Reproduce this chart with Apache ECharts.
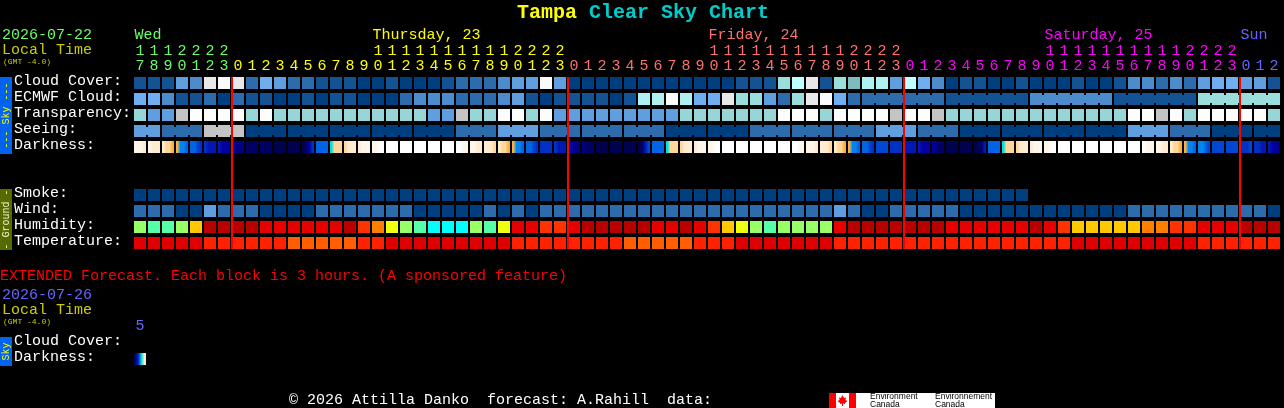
<!DOCTYPE html>
<html><head><meta charset="utf-8">
<style>html,body{margin:0;padding:0;background:#000;overflow:hidden}#c{width:1284px;height:408px}</style>
<script src="https://cdn.jsdelivr.net/npm/echarts@6/dist/echarts.min.js"></script>
</head><body><div id="c"></div>
<script>
var hours = [17,18,19,20,21,22,23,
  0,1,2,3,4,5,6,7,8,9,10,11,12,13,14,15,16,17,18,19,20,21,22,23,
  0,1,2,3,4,5,6,7,8,9,10,11,12,13,14,15,16,17,18,19,20,21,22,23,
  0,1,2,3,4,5,6,7,8,9,10,11,12,13,14,15,16,17,18,19,20,21,22,23,
  0,1,2];
var rowNames = ['Cloud Cover:','ECMWF Cloud:','Transparency:','Seeing:','Darkness:','','','Smoke:','Wind:','Humidity:','Temperature:'];
var extRowNames = ['Cloud Cover:','Darkness:'];
var extHours = ['5'];
var dayNames = ['Wed','Thursday, 23','Friday, 24','Saturday, 25','Sun'];
var dayLabelCols = [0,17,41,65,79];
var midnightCols = [7,31,55,79];

var cloudCover = [1,1,1,4,3,10,11,
  10,2,5,4,2,2,1,1,1,0,0,1,0,0,0,1,2,2,2,3,4,4,11,4,
  0,0,0,0,0,0,0,0,0,0,0,0,1,1,1,7,9,10,1,7,6,8,8,4,
  9,5,3,0,1,1,0,0,1,0,0,0,1,0,0,1,3,3,2,3,2,4,5,5,
  4,4,1];
var ecmwfCloud = [5,5,3,1,1,2,0,
  2,1,1,0,0,1,0,1,1,0,0,0,2,3,3,3,2,2,2,3,4,1,0,1,
  1,1,1,0,1,8,8,11,8,5,5,10,7,7,4,2,7,10,11,5,2,2,2,2,
  2,2,2,1,1,1,1,1,1,3,3,3,3,3,3,1,1,1,1,1,1,7,7,7,
  7,7,7];
var ecmwfBlocks = [1,1,1,1,1,1,1,1,1,1,1,1,1,1,1,1,1,1,1,1,1,1,1,1,1,1,1,1,1,1,1,1,1,1,1,1,1,1,1,1,1,1,1,1,1,1,1,1,1,1,1,1,6,6,6,6,6];
var transparency = [1,0,0,3,2,2,2,
  2,1,2,1,1,1,1,1,1,1,1,1,1,1,0,0,3,1,1,2,2,1,2,0,
  0,0,0,0,0,0,0,0,1,1,1,1,1,1,1,2,2,2,1,2,2,2,2,3,
  2,2,3,1,1,1,1,1,1,1,1,1,1,1,1,1,2,2,3,2,1,2,2,2,
  2,2,1];
var seeing = [2,2,1,1,1,3,3,
  3,0,0,0,0,0,0,0,0,0,0,0,0,0,0,0,1,1,1,2,2,2,1,1,
  1,1,1,1,1,1,1,0,0,0,0,0,0,1,1,1,1,1,1,1,1,1,2,2,
  2,1,1,1,0,0,0,0,0,0,0,0,0,0,0,0,2,2,2,1,1,1,0,0,
  0,0,0];
var seeingBlocks = [2,3,3,3,3,3,3,3,3,3,3,3,3,3,3,3,3,3,3,3,3,3,3,3,3,3,3,2];
var darkness = [[1,1,1,2],[1,2,2,2],[2,3,3,4],[4,6,6,7],[7,7,8,9],[9,10,10,10],[10,11,11,11],
  [11,12,12,12],[13,13,13,13],[13,13,13,13],[14,14,14,14],[14,14,14,14],[14,13,11,9],[7,7,7,7],[5,3,3,3],[3,2,2,2],[2,1,1,1],[1,1,0,0],[0,0,0,0],[0,0,0,0],[0,0,0,0],[0,0,0,0],[0,0,0,0],[0,0,1,1],[1,1,2,2],[2,2,2,3],[2,3,3,4],[4,6,6,7],[7,7,8,9],[9,9,9,9],[9,10,10,10],
  [11,11,12,12],[12,13,13,13],[14,14,14,14],[14,14,14,14],[14,14,14,14],[14,13,10,8],[7,7,7,7],[5,3,3,3],[3,2,2,2],[2,1,1,1],[1,1,0,0],[0,0,0,0],[0,0,0,0],[0,0,0,0],[0,0,0,0],[0,0,0,0],[0,0,1,1],[1,1,1,2],[2,2,2,3],[2,3,3,4],[4,6,6,7],[7,7,8,9],[8,8,8,8],[9,9,9,9],
  [10,10,10,10],[10,11,11,11],[11,12,13,13],[14,14,14,14],[14,14,14,14],[14,14,13,10],[7,7,7,7],[5,3,3,3],[3,2,2,2],[2,1,1,1],[1,1,0,0],[0,0,0,0],[0,0,0,0],[0,0,0,0],[0,0,0,0],[0,0,0,0],[0,0,0,0],[0,1,1,1],[1,1,2,2],[2,3,3,4],[4,6,6,7],[6,6,7,8],[8,8,8,8],[8,8,8,8],
  [9,9,9,8],[9,9,10,10],[10,11,11,12]];
var smoke = [0,0,0,0,0,0,0,
  0,0,0,0,0,0,0,0,0,0,0,0,0,0,0,0,0,0,0,0,0,0,0,0,
  0,0,0,0,0,0,0,0,0,0,0,0,0,0,0,0,0,0,0,0,0,0,0,0,
  0,0,0,0,0,0,0,0,0];
var wind = [1,1,1,0,0,2,1,
  1,1,0,0,0,0,1,1,1,1,1,1,1,0,0,0,0,0,1,0,1,0,1,1,
  1,1,1,1,1,1,1,1,1,1,1,1,1,1,1,1,1,1,1,2,1,0,0,1,
  1,1,1,1,0,0,0,0,0,0,0,0,0,0,0,0,1,1,1,1,1,1,1,1,
  1,1,0];
var humidity = [2,1,1,2,4,8,8,
  8,8,7,7,7,7,7,7,8,6,5,3,2,1,0,0,0,2,1,3,7,7,6,6,
  7,8,8,8,8,8,7,7,8,7,6,4,3,2,1,2,2,2,2,7,8,8,8,8,
  8,8,8,7,7,7,7,7,7,8,7,6,4,4,4,4,4,5,5,6,6,7,7,7,
  8,8,8];
var temperature = [0,0,0,0,0,1,1,
  1,1,1,1,2,2,2,2,2,1,1,0,0,0,0,0,0,0,0,0,1,1,1,1,
  1,1,1,1,2,2,2,2,2,1,1,1,0,0,0,0,0,0,0,1,1,1,1,1,
  1,1,1,1,1,1,1,1,1,1,1,1,0,0,0,0,0,0,0,0,0,1,1,1,
  1,1,1];
var extDarkness = [[13,9,5,2]];

var cloudColors = ['#003F7F','#135393','#2C6CAC','#4C8CCC','#5F9FDF','#6FAFEF','#7CBCBC','#99DDDD','#AFF0F0','#BFFFFF','#E8E8E8','#FAFAFA'];
var transColors = ['#5F9FDF','#96D6D6','#FDFDFD','#C4C4C4'];
var seeingColors = ['#003F7F','#2C6CAC','#5F9FDF','#C4C4C4'];
var windColors = ['#003F7F','#2C6CAC','#5F9FDF'];
var humidityColors = ['#00FFFF','#55FFAA','#99FF66','#EEFF11','#FFC800','#FF8000','#FF3300','#E60000','#B80000'];
var tempColors = ['#E00000','#FF2200','#FF5F00'];
var darkColors = ['#FFFFFF','#FFF6EA','#FFEBD0','#FFD699','#F8B040','#00E0E0','#0084F4','#0064E4','#0048D4','#0030C4','#0018B4','#0000A4','#000084','#000064','#000050'];
var dayColors = ['#66FF66','#FFFF00','#FF7070','#FF00FF','#6666FF'];

var MONO = '"Liberation Mono", monospace';

function blockLinks(blocks){
  var links = {}, c = 0;
  blocks.forEach(function(n){ for (var i=0;i<n-1;i++) links[c+i]=true; c+=n; });
  return links;
}
function cellRender(valueColor, links){
  return function(params, api){
    var col = api.value(0), row = api.value(1);
    var p = api.coord([col,row]), s = api.size([1,1]);
    var w = s[0]-2, h = s[1]-4, x = p[0]-w/2, y = p[1]-h/2;
    var children = [{type:'rect', shape:{x:x,y:y,width:w,height:h}, style:{fill:valueColor(col)}}];
    if (links && links[col]) children.push({type:'rect', shape:{x:x+w,y:y+2,width:2,height:h-4}, style:{fill:valueColor(col)}});
    return {type:'group', children:children};
  };
}
function darkFill(samples){
  var stops = samples.map(function(v,i){ return {offset:(i+0.5)/samples.length, color:darkColors[v]}; });
  return new echarts.graphic.LinearGradient(0,0,1,0,stops);
}
function rowSeries(name, row, values, palette, links){
  return {name:name, type:'custom', xAxisIndex:0, yAxisIndex:0, silent:true,
    data:values.map(function(v,i){return [i,row];}),
    encode:{x:0,y:1}, clip:false,
    renderItem:cellRender(function(c){return palette[values[c]];}, links)};
}
var dayOf = []; (function(){ var d=0; hours.forEach(function(h,i){ if(i>0&&h===0)d++; dayOf.push(d); }); })();

var series = [
  rowSeries('Cloud Cover',0,cloudCover,cloudColors),
  rowSeries('ECMWF Cloud',1,ecmwfCloud,cloudColors,blockLinks(ecmwfBlocks)),
  rowSeries('Transparency',2,transparency,transColors),
  rowSeries('Seeing',3,seeing,seeingColors,blockLinks(seeingBlocks)),
  {name:'Darkness',type:'custom',xAxisIndex:0,yAxisIndex:0,silent:true,clip:false,
    data:darkness.map(function(v,i){return [i,4];}),encode:{x:0,y:1},
    renderItem:cellRender(function(c){return darkFill(darkness[c]);})},
  rowSeries('Smoke',7,smoke,cloudColors),
  rowSeries('Wind',8,wind,windColors),
  rowSeries('Humidity',9,humidity,humidityColors),
  rowSeries('Temperature',10,temperature,tempColors),
  {name:'Midnight',type:'custom',xAxisIndex:0,yAxisIndex:0,silent:true,clip:false,z:5,
    data:midnightCols.map(function(c){return [c,0];}),encode:{x:0,y:1},
    renderItem:function(params,api){
      var cs=params.coordSys, p=api.coord([api.value(0),0]), s=api.size([1,1]);
      return {type:'rect',shape:{x:p[0]-s[0]/2,y:cs.y+2,width:2,height:cs.height-4},style:{fill:'#FF0000'}};
    }},
  {name:'Days',type:'custom',xAxisIndex:0,yAxisIndex:0,silent:true,clip:false,
    data:dayLabelCols.map(function(c,i){return [c,0,i];}),encode:{x:0,y:1},
    renderItem:function(params,api){
      var cs=params.coordSys, p=api.coord([api.value(0),0]), s=api.size([1,1]), i=api.value(2);
      return {type:'text',x:p[0]-s[0]/2+1.5,y:cs.y-40,style:{text:dayNames[i],fill:dayColors[i],font:'15px '+MONO,textAlign:'left',textVerticalAlign:'middle'}};
    }},
  {name:'Extended Darkness',type:'custom',xAxisIndex:2,yAxisIndex:1,silent:true,clip:false,
    data:extDarkness.map(function(v,i){return [i,1];}),encode:{x:0,y:1},
    renderItem:cellRender(function(c){return darkFill(extDarkness[c]);})}
];

function txt(text,x,y,color,size){
  return {type:'text',x:x,y:y,silent:true,style:{text:text,fill:color,font:(size||15)+'px '+MONO,textAlign:'left',textVerticalAlign:'middle'}};
}
function vtxt(text,cy,color){
  return {type:'text',x:6,y:cy,rotation:Math.PI/2,silent:true,style:{text:text,fill:color,font:'10px '+MONO,textAlign:'center',textVerticalAlign:'middle'}};
}
var SANS='"Liberation Sans", sans-serif';
function logoTxt(t,x,y){return {type:'text',x:x,y:y,silent:true,style:{text:t,fill:'#000',font:'8.5px '+SANS,textAlign:'left',textVerticalAlign:'middle'}};}
var graphics=[
  txt('2026-07-22',2,35,'#66FF66'),
  txt('Local Time',2,50,'#CCCC00'),
  txt('(GMT -4.0)',3,62,'#CCCC00',8),
  {type:'rect',shape:{x:0,y:77,width:12,height:77},style:{fill:'#0064F0'},silent:true},
  vtxt('--- Sky ---',115.5,'#FFFF00'),
  {type:'rect',shape:{x:0,y:189,width:12,height:61},style:{fill:'#556B00'},silent:true},
  vtxt('- Ground -',219.5,'#F4F4D0'),
  txt('EXTENDED Forecast. Each block is 3 hours. (A sponsored feature)',0,276,'#FF0000'),
  txt('2026-07-26',2,295,'#6666FF'),
  txt('Local Time',2,310,'#CCCC00'),
  txt('(GMT -4.0)',3,322,'#CCCC00',8),
  {type:'rect',shape:{x:0,y:337,width:12,height:29},style:{fill:'#0064F0'},silent:true},
  vtxt('Sky',351.5,'#FFFF00'),
  txt('\u00A9 2026 Attilla Danko  forecast: A.Rahill  data:',289,400,'#FFFFFF'),
  {type:'rect',shape:{x:829,y:393,width:166,height:15},style:{fill:'#FFFFFF'},silent:true},
  {type:'rect',shape:{x:829,y:393,width:7,height:15},style:{fill:'#FF0000'},silent:true},
  {type:'rect',shape:{x:849,y:393,width:7,height:15},style:{fill:'#FF0000'},silent:true},
  {type:'polygon',shape:{points:[[842.5,395],[844,398],[846,397.5],[845.5,400],[847.5,401],[845,403],[845,404],[843,403.5],[843,406],[842,406],[842,403.5],[840,404],[840,403],[837.5,401],[839.5,400],[839,397.5],[841,398]]},style:{fill:'#FF0000'},silent:true},
  logoTxt('Environment',870,396.5),logoTxt('Canada',870,404.5),
  logoTxt('Environnement',935,396.5),logoTxt('Canada',935,404.5)
];

var baseAxis={axisLine:{show:false},axisTick:{show:false},splitLine:{show:false}};
function ax(o){var r={};for(var k in baseAxis)r[k]=baseAxis[k];for(var j in o)r[j]=o[j];return r;}

var option={
  backgroundColor:'#000',
  animation:false,
  title:{left:517,top:1,padding:0,
    text:'{a|Tampa }{b|Clear Sky Chart}',
    textStyle:{rich:{
      a:{color:'#FFFF00',fontFamily:MONO,fontWeight:'bold',fontSize:20,lineHeight:24},
      b:{color:'#00CCCC',fontFamily:MONO,fontWeight:'bold',fontSize:20,lineHeight:24}}}},
  grid:[{left:133,top:75,width:1148,height:176},{left:133,top:335,width:14,height:32}],
  xAxis:[
    ax({type:'category',gridIndex:0,position:'top',data:hours.map(function(h){return String(h%10);}),
      axisLabel:{interval:0,margin:1,fontFamily:MONO,fontSize:15,hideOverlap:false,
        color:function(v,i){return dayColors[dayOf[i]];}}}),
    ax({type:'category',gridIndex:0,position:'top',offset:15,data:hours.map(function(h){return h>=10?String(Math.floor(h/10)):'';}),
      axisLabel:{interval:0,margin:1,fontFamily:MONO,fontSize:15,hideOverlap:false,
        color:function(v,i){return dayColors[dayOf[i]];}}}),
    ax({type:'category',gridIndex:1,position:'top',data:extHours,
      axisLabel:{interval:0,margin:1,fontFamily:MONO,fontSize:15,color:dayColors[4]}})
  ],
  yAxis:[
    ax({type:'category',gridIndex:0,inverse:true,data:rowNames,
      axisLabel:{interval:0,margin:119,align:'left',verticalAlign:'bottom',lineHeight:4,fontFamily:MONO,fontSize:15,color:'#FFFFFF',hideOverlap:false}}),
    ax({type:'category',gridIndex:1,inverse:true,data:extRowNames,
      axisLabel:{interval:0,margin:119,align:'left',verticalAlign:'bottom',lineHeight:4,fontFamily:MONO,fontSize:15,color:'#FFFFFF',hideOverlap:false}})
  ],
  series:series,
  graphic:{elements:graphics}
};
var chart=echarts.init(document.getElementById('c'),null,{renderer:'canvas',width:1284,height:408});
chart.setOption(option);
</script></body></html>
